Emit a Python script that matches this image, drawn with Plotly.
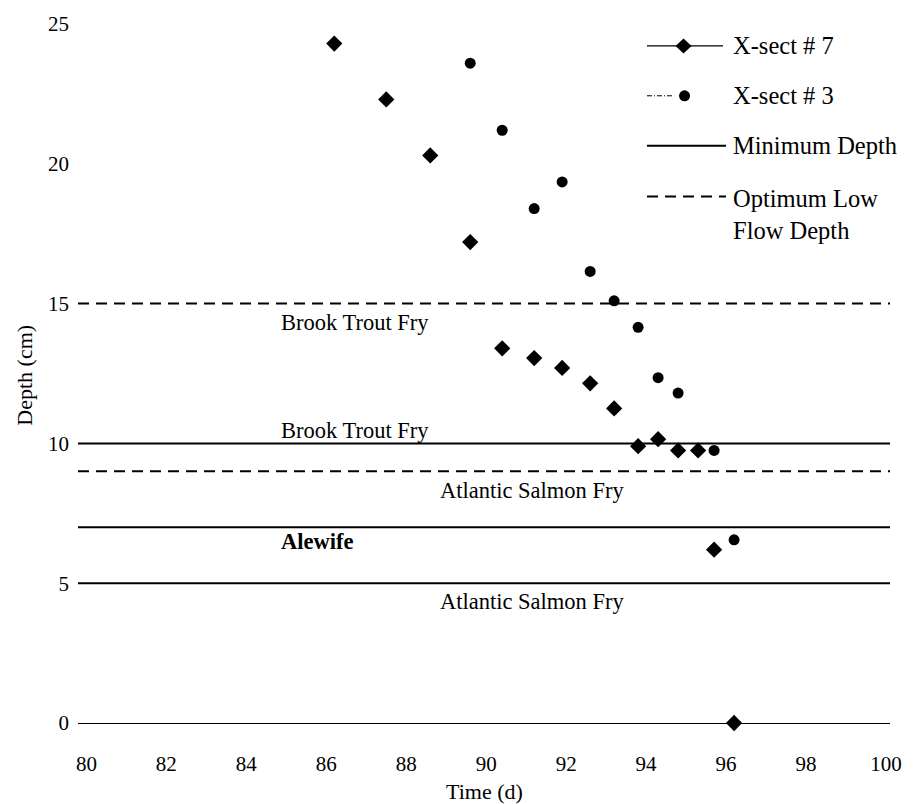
import plotly.graph_objects as go

# Cross-section depth readings over time
xs7_time = [86.2, 87.5, 88.6, 89.6, 90.4, 91.2, 91.9, 92.6, 93.2, 93.8, 94.3, 94.8, 95.3, 95.7, 96.2]
xs7_depth = [24.3, 22.3, 20.3, 17.2, 13.4, 13.05, 12.7, 12.15, 11.25, 9.9, 10.15, 9.75, 9.75, 6.2, 0.0]

xs3_time = [89.6, 90.4, 91.2, 91.9, 92.6, 93.2, 93.8, 94.3, 94.8, 95.7, 96.2]
xs3_depth = [23.6, 21.2, 18.4, 19.35, 16.15, 15.1, 14.15, 12.35, 11.8, 9.75, 6.55]

# Species depth criteria (cm): label, depth, kind
criteria_labels = ["Brook Trout Fry", "Brook Trout Fry", "Atlantic Salmon Fry", "Alewife", "Atlantic Salmon Fry"]
criteria_depths = [15, 10, 9, 7, 5]
criteria_kinds = ["optimum", "minimum", "optimum", "minimum", "minimum"]

x_ticks = [80, 82, 84, 86, 88, 90, 92, 94, 96, 98, 100]
y_ticks = [0, 5, 10, 15, 20, 25]

FONT = "Liberation Serif"
W, H = 914, 804
L, R, T, B = 78, 14, 22, 81
PW, PH = W - L - R, H - T - B


def px(xp):
    return (xp - L) / PW


def py(yp):
    return (H - B - yp) / PH


fig = go.Figure()

fig.add_trace(go.Scatter(
    x=xs7_time, y=xs7_depth, mode="markers", name="X-sect # 7",
    marker=dict(symbol="diamond", size=12.5, color="black"),
    cliponaxis=False, showlegend=False))
fig.add_trace(go.Scatter(
    x=xs3_time, y=xs3_depth, mode="markers", name="X-sect # 3",
    marker=dict(symbol="circle", size=11, color="black"),
    cliponaxis=False, showlegend=False))

shapes = []
# Criteria lines across the full time span
for d, kind in zip(criteria_depths, criteria_kinds):
    shapes.append(dict(
        type="line", xref="paper", yref="y", x0=0, x1=1, y0=d, y1=d,
        line=dict(color="black", width=2,
                  dash="solid" if kind == "minimum" else "11px,7px"),
        layer="below"))

# Criteria labels
label_pos = [(84.81, 14.34), (84.81, 10.45), (88.79, 8.30), (84.81, 6.48), (88.79, 4.34)]
annotations = []
for (lx, ly), text in zip(label_pos, criteria_labels):
    annotations.append(dict(
        x=lx, y=ly, xref="x", yref="y", xanchor="left", yanchor="middle",
        text="<b>%s</b>" % text if text == "Alewife" else text,
        showarrow=False, font=dict(family=FONT, size=22.5, color="black")))

# Key
key_rows = [44, 94, 144, 195]
shapes.append(dict(type="line", xref="paper", yref="paper",
                   x0=px(654), x1=px(731), y0=py(key_rows[0]), y1=py(key_rows[0]),
                   line=dict(color="black", width=1.2)))
shapes.append(dict(type="path", xref="paper", yref="paper",
                   xsizemode="pixel", ysizemode="pixel",
                   xanchor=px(691), yanchor=py(key_rows[0]),
                   path="M -8 0 L 0 7.5 L 8 0 L 0 -7.5 Z",
                   fillcolor="black", line=dict(color="black", width=0)))
shapes.append(dict(type="line", xref="paper", yref="paper",
                   x0=px(654), x1=px(681), y0=py(key_rows[1]), y1=py(key_rows[1]),
                   line=dict(color="black", width=1, dash="5px,2px,1px,2px")))
shapes.append(dict(type="circle", xref="paper", yref="paper",
                   xsizemode="pixel", ysizemode="pixel",
                   xanchor=px(692), yanchor=py(key_rows[1]),
                   x0=-5.5, x1=5.5, y0=-5.5, y1=5.5,
                   fillcolor="black", line=dict(color="black", width=0)))
shapes.append(dict(type="line", xref="paper", yref="paper",
                   x0=px(654), x1=px(734), y0=py(key_rows[2]), y1=py(key_rows[2]),
                   line=dict(color="black", width=2)))
shapes.append(dict(type="line", xref="paper", yref="paper",
                   x0=px(654), x1=px(734), y0=py(key_rows[3]), y1=py(key_rows[3]),
                   line=dict(color="black", width=2, dash="11px,7px")))

key_texts = ["X-sect # 7", "X-sect # 3", "Minimum Depth", "Optimum Low<br>Flow Depth"]
for yrow, text in zip(key_rows, key_texts):
    two = "<br>" in text
    annotations.append(dict(
        x=px(739), y=py(yrow - 14) if two else py(yrow), xref="paper", yref="paper",
        xanchor="left", yanchor="top" if two else "middle", align="left",
        text=text, showarrow=False,
        font=dict(family=FONT, size=24.5, color="black")))

# Axis titles
annotations.append(dict(x=px(24), y=py(374), xref="paper", yref="paper",
                        xanchor="center", yanchor="middle",
                        text="Depth (cm)", textangle=-90, showarrow=False,
                        font=dict(family=FONT, size=22, color="black")))
annotations.append(dict(x=px(490), y=py(792), xref="paper", yref="paper",
                        xanchor="center", yanchor="middle",
                        text="Time (d)", showarrow=False,
                        font=dict(family=FONT, size=22, color="black")))

fig.update_layout(
    width=W, height=H,
    margin=dict(l=L, r=R, t=T, b=B),
    plot_bgcolor="white", paper_bgcolor="white",
    showlegend=False,
    shapes=shapes, annotations=annotations,
    font=dict(family=FONT, size=21, color="black"),
)
fig.update_xaxes(range=[79.79, 100.1], tickvals=x_ticks, ticks="",
                 showgrid=False, zeroline=False,
                 showline=True, linecolor="black", linewidth=1,
                 ticklabelstandoff=22,
                 tickfont=dict(family=FONT, size=21, color="black"))
fig.update_yaxes(range=[0, 25], tickvals=y_ticks, ticks="",
                 showgrid=False, zeroline=False, showline=False,
                 ticklabelstandoff=8,
                 tickfont=dict(family=FONT, size=21, color="black"))

fig.write_html("out.html")
